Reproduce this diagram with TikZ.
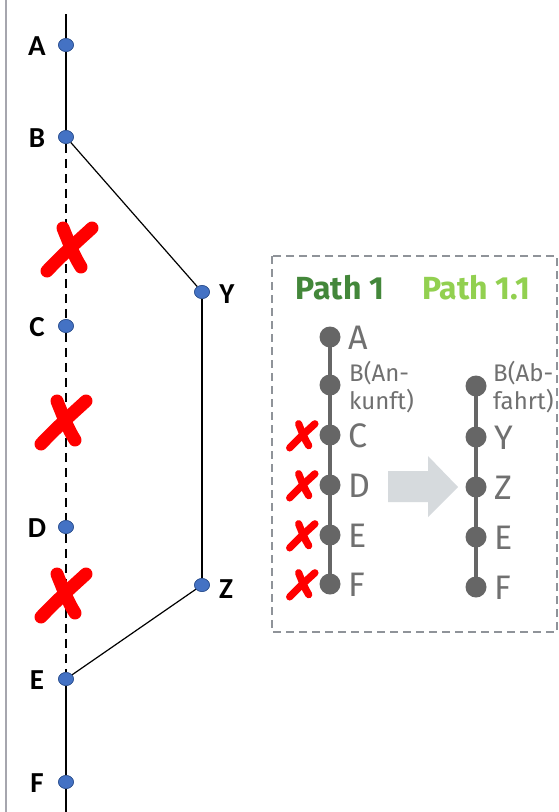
\documentclass[tikz,border=0pt]{standalone}
\usepackage{fontspec}
\setmainfont{Carlito}
\newfontfamily\boxfont{Fira Sans}
\usetikzlibrary{shapes.geometric}
\definecolor{dotblue}{HTML}{4472C4}
\definecolor{dotedge}{HTML}{2F528F}
\definecolor{dkgreen}{HTML}{43873A}
\definecolor{ltgreen}{HTML}{92D050}
\definecolor{dotgray}{HTML}{666666}
\definecolor{txtgray}{HTML}{707070}
\definecolor{arrowgray}{HTML}{D6DADD}
\definecolor{boxgray}{HTML}{8F9399}
\definecolor{bordergray}{HTML}{A6A6AE}
\newcommand\redcross[3]{%
  \begin{scope}[shift={(#1,#2)}, scale=#3]
    \draw[red, line width=#3*13pt, line cap=round] (-22,23) .. controls (-5,5) and (10,-8) .. (23,-20);
    \draw[red, line width=#3*13pt, line cap=round] (-6,-20) .. controls (0,-5) and (5,8) .. (12,19);
  \end{scope}}
\begin{document}
\begin{tikzpicture}[x=1pt,y=-1pt,
  bdot/.style={ellipse, fill=dotblue, draw=dotedge, line width=0.6pt, minimum width=15pt, minimum height=13pt, inner sep=0pt},
  gdot/.style={circle, fill=dotgray, minimum size=21pt, inner sep=0pt},
  lbl/.style={font=\fontsize{29}{29}\selectfont\bfseries, anchor=center, inner sep=0pt},
  plbl/.style={font=\boxfont\fontsize{34}{34}\selectfont, text=txtgray, anchor=west, inner sep=0pt},
  slbl/.style={font=\boxfont\fontsize{24}{28}\selectfont, text=txtgray, anchor=west, inner sep=0pt, align=left},
  title/.style={font=\boxfont\fontsize{32}{32}\selectfont\bfseries, anchor=center, inner sep=0pt},
  mainline/.style={line width=2.7pt, black},
  thinline/.style={line width=1.2pt, black},
  gline/.style={line width=4pt, dotgray}]
\useasboundingbox (0,0) rectangle (559,812);
\fill[white] (0,0) rectangle (559,812);
% left border
\draw[bordergray, line width=1.8pt] (6,0) -- (6,812);
% main track
\coordinate (top) at (66,14);
\coordinate (bot) at (66,812);
\node[bdot] (A) at (66,45) {};
\node[bdot] (B) at (66,137) {};
\node[bdot] (C) at (66,326) {};
\node[bdot] (D) at (66,527) {};
\node[bdot] (E) at (66,679) {};
\node[bdot] (F) at (66,782) {};
\node[bdot] (Y) at (202,292) {};
\node[bdot] (Z) at (202,585) {};
\draw[mainline] (top) -- (A.north);
\draw[mainline] (A) -- (B);
\draw[mainline, dash pattern=on 9pt off 6pt] (B) -- (C);
\draw[mainline, dash pattern=on 9pt off 6pt] (C) -- (D);
\draw[mainline, dash pattern=on 9pt off 6pt] (D) -- (E);
\draw[mainline] (E) -- (F);
\draw[mainline] (F) -- (bot);
\draw[thinline] (B) -- (Y);
\draw[thinline] (Y) -- (Z);
\draw[thinline] (Z) -- (E);
% redraw dots on top
\foreach \x/\y in {66/45,66/137,66/326,66/527,66/679,66/782,202/292,202/585}
  \node[bdot] at (\x,\y) {};
\node[lbl] (lA) at (37,46) {A};
\node[lbl] (lB) at (37,138) {B};
\node[lbl] (lC) at (37,327) {C};
\node[lbl] (lD) at (37,528) {D};
\node[lbl] (lE) at (37,680) {E};
\node[lbl] (lF) at (37,783) {F};
\node[lbl] (lY) at (227,294) {Y};
\node[lbl] (lZ) at (226,589) {Z};
\redcross{69}{248}{1}
\redcross{63}{421}{1}
\redcross{63}{594}{1}
% box
\draw[boxgray, line width=1.6pt, dash pattern=on 8pt off 5pt] (272,256) rectangle (557,632);
\node[title, text=dkgreen] (t1) at (340,288) {Path 1};
\node[title, text=ltgreen] (t2) at (476,288) {Path 1.1};
% path 1
\node[gdot] (pA) at (330,337) {};
\node[gdot] (pB) at (330,385) {};
\node[gdot] (pC) at (330,435) {};
\node[gdot] (pD) at (330,485) {};
\node[gdot] (pE) at (330,535) {};
\node[gdot] (pF) at (330,584) {};
\draw[gline] (pA.center) -- (pF.center);
\node[plbl] (qA) at (348,338) {A};
\node[slbl] (qB) at (349,387) {B(An-\\kunft)};
\node[plbl] (qC) at (348,436) {C};
\node[plbl] (qD) at (348,486) {D};
\node[plbl] (qE) at (348,536) {E};
\node[plbl] (qF) at (348,585) {F};
% path 1.1
\node[gdot] (rB) at (476,386) {};
\node[gdot] (rY) at (476,437) {};
\node[gdot] (rZ) at (476,487) {};
\node[gdot] (rE) at (476,537) {};
\node[gdot] (rF) at (476,587) {};
\draw[gline] (rB.center) -- (rF.center);
\node[slbl] (sB) at (493,387) {B(Ab-\\fahrt)};
\node[plbl] (sY) at (494,438) {Y};
\node[plbl] (sZ) at (494,488) {Z};
\node[plbl] (sE) at (494,538) {E};
\node[plbl] (sF) at (494,588) {F};
% arrow
\fill[arrowgray] (388,471) -- (428,471) -- (428,456) -- (458,487) -- (428,517) -- (428,502) -- (388,502) -- cycle;
% small crosses
\redcross{302}{435}{0.56}
\redcross{302}{485}{0.56}
\redcross{302}{535}{0.56}
\redcross{302}{584}{0.56}
\end{tikzpicture}
\end{document}
